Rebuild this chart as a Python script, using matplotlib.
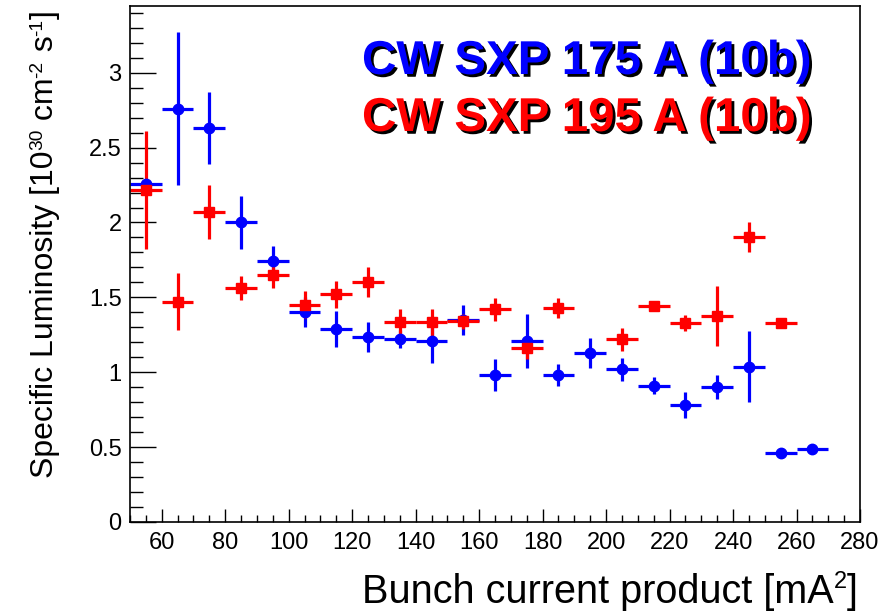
import numpy as np
import matplotlib.pyplot as plt
import matplotlib.patheffects as pe
from matplotlib.ticker import MultipleLocator

plt.rcParams['font.family'] = ['Liberation Sans', 'DejaVu Sans']

# CW SXP 175 A (10b) - blue
x_blue = [55, 65, 75, 85, 95, 105, 115, 125, 135, 145, 155,
          165, 175, 185, 195, 205, 215, 225, 235, 245, 255, 265]
y_blue = [2.26, 2.76, 2.63, 2.00, 1.74, 1.40, 1.29, 1.235, 1.22, 1.21, 1.35,
          0.98, 1.21, 0.98, 1.13, 1.02, 0.91, 0.78, 0.90, 1.035, 0.46, 0.487]
err_blue = [0.02, 0.51, 0.24, 0.18, 0.10, 0.10, 0.12, 0.10, 0.06, 0.15, 0.10,
            0.105, 0.18, 0.075, 0.10, 0.077, 0.055, 0.087, 0.078, 0.237, 0.01, 0.01]

# CW SXP 195 A (10b) - red
x_red = [55, 65, 75, 85, 95, 105, 115, 125, 135, 145, 155,
         165, 175, 185, 205, 215, 225, 235, 245, 255]
y_red = [2.215, 1.47, 2.07, 1.56, 1.65, 1.45, 1.52, 1.60, 1.335, 1.335, 1.34,
         1.42, 1.16, 1.43, 1.22, 1.44, 1.33, 1.375, 1.905, 1.33]
err_red = [0.395, 0.19, 0.18, 0.08, 0.09, 0.09, 0.09, 0.10, 0.09, 0.09, 0.05,
           0.075, 0.07, 0.065, 0.078, 0.015, 0.055, 0.2, 0.1, 0.01]

bin_half = 5

W, H = 886, 614
fig = plt.figure(figsize=(W / 100, H / 100), dpi=100)
ax = fig.add_axes([0.1467, 0.150, 0.8240, 0.840])

ax.errorbar(x_blue, y_blue, xerr=bin_half, yerr=err_blue, fmt='o', color='blue',
            markersize=7.5, elinewidth=2.3, capsize=0)
ax.errorbar(x_red, y_red, xerr=bin_half, yerr=err_red, fmt='s', color='red',
            markersize=7.5, elinewidth=2.3, capsize=0)

ax.set_xlim(50, 280)
ax.set_ylim(0, 3.445)
ax.xaxis.set_major_locator(MultipleLocator(20))
ax.xaxis.set_minor_locator(MultipleLocator(5))
ax.yaxis.set_major_locator(MultipleLocator(0.5))
ax.yaxis.set_minor_locator(MultipleLocator(0.1))
ax.yaxis.set_major_formatter(lambda v, p: '0' if v == 0 else f'{v:g}')

ax.tick_params(axis='both', which='both', direction='in', labelsize=17,
               top=False, right=False, width=1)
ax.tick_params(axis='y', which='major', length=19, pad=6)
ax.tick_params(axis='y', which='minor', length=9.5)
ax.tick_params(axis='x', which='major', length=9.5, pad=7)
ax.tick_params(axis='x', which='minor', length=5)
for s in ax.spines.values():
    s.set_linewidth(1.2)

renderer = fig.canvas.get_renderer()

# axis titles built piece by piece (ROOT-style small raised superscripts)
xtitle = [('Bunch current product [mA', 28.5, 0), ('2', 17, 15), (']', 28.5, 0)]
pos_x = 362
for txt, size, lift in xtitle:
    t = fig.text(pos_x / W, (H - 603 + lift) / H, txt, fontsize=size,
                 ha='left', va='baseline')
    pos_x += t.get_window_extent(renderer).width

ytitle = [('Specific Luminosity [10', 23, 0), ('30', 13.8, 11), (' cm', 23, 0),
          ('-2', 13.8, 11), (' s', 23, 0), ('-1', 13.8, 11), (']', 23, 0)]
base_x = 53
pos_y = H - 478
for txt, size, lift in ytitle:
    t = fig.text((base_x - lift) / W, pos_y / H, txt, fontsize=size, rotation=90,
                 rotation_mode='anchor', ha='left', va='baseline')
    pos_y += t.get_window_extent(renderer).height

shadow = [pe.withSimplePatchShadow(offset=(2, -2), shadow_rgbFace='black', alpha=1.0)]
fig.text(362 / W, 1 - 74 / H, 'CW SXP 175 A (10b)', color='blue', fontsize=34.2,
         fontweight='bold', ha='left', va='baseline', path_effects=shadow)
fig.text(362 / W, 1 - 131 / H, 'CW SXP 195 A (10b)', color='red', fontsize=34.2,
         fontweight='bold', ha='left', va='baseline', path_effects=shadow)

fig.savefig('out.png', dpi=100)
